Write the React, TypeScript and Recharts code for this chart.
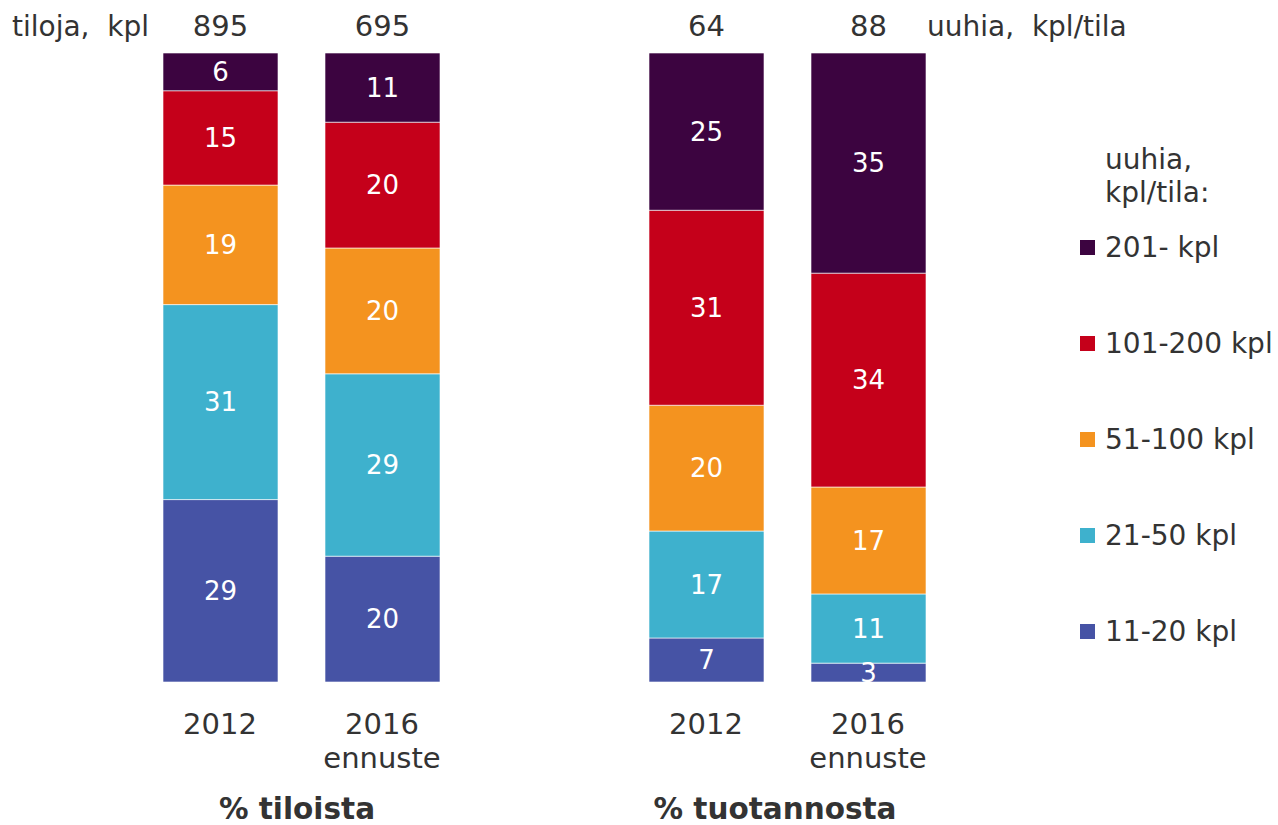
import React from 'react';
import { BarChart, Bar, XAxis, YAxis, LabelList, Legend, Customized } from 'recharts';

// categories (the empty one is the gap between the two groups)
const years = ['2012', '2016', '', '2012', '2016'];
const yearNotes = ['', 'ennuste', '', '', 'ennuste'];
const totals = [895, 695, null, 64, 88];

// shares, % (left pair: of farms, right pair: of production)
const s11_20 = [29, 20, null, 7, 3];
const s21_50 = [31, 29, null, 17, 11];
const s51_100 = [19, 20, null, 20, 17];
const s101_200 = [15, 20, null, 31, 34];
const s201 = [6, 11, null, 25, 35];

const seriesNames = ['11-20 kpl', '21-50 kpl', '51-100 kpl', '101-200 kpl', '201- kpl'];
const seriesKeys = ['s11', 's21', 's51', 's101', 's201'];
const COLORS = ['#4653A5', '#3EB1CD', '#F4931F', '#C5001A', '#3C0440'];

const FONT = '"DejaVu Sans", Verdana, sans-serif';
const TEXT = '#333333';

const data = years.map((y, i) => ({
  id: `c${i}`,
  year: y,
  note: yearNotes[i],
  total: totals[i],
  s11: s11_20[i],
  s21: s21_50[i],
  s51: s51_100[i],
  s101: s101_200[i],
  s201: s201[i],
}));

const YearTick = (props: any) => {
  const { x, y, index } = props;
  const row = data[index];
  if (!row || !row.year) return null;
  return (
    <text x={x} y={y + 44} textAnchor="middle" fill={TEXT} fontSize={29} fontFamily={FONT}>
      <tspan x={x}>{row.year}</tspan>
      {row.note && <tspan x={x} dy={34}>{row.note}</tspan>}
    </text>
  );
};

const Titles = () => (
  <g fontFamily={FONT} fill={TEXT}>
    <text x={12} y={36} fontSize={28}>{'tiloja,\u00a0 kpl'}</text>
    <text x={927} y={36} fontSize={28}>{'uuhia,\u00a0 kpl/tila'}</text>
    <text x={297} y={819} fontSize={29.5} fontWeight="bold" textAnchor="middle">% tiloista</text>
    <text x={775} y={819} fontSize={29.5} fontWeight="bold" textAnchor="middle">% tuotannosta</text>
  </g>
);

const LegendBox = (props: any) => {
  const items = [...(props.payload || [])].sort(
    (a: any, b: any) => seriesNames.indexOf(b.value) - seriesNames.indexOf(a.value)
  );
  return (
    <div style={{ position: 'relative', width: 200, height: 520, fontFamily: FONT, color: TEXT, fontSize: 28 }}>
      <div style={{ position: 'absolute', left: 25, top: 0, lineHeight: '33px', whiteSpace: 'nowrap' }}>
        uuhia,<br />kpl/tila:
      </div>
      {items.map((it: any, i: number) => (
        <div key={it.value} style={{ position: 'absolute', left: 0, top: 84 + i * 96, height: 40, display: 'flex', alignItems: 'center', whiteSpace: 'nowrap' }}>
          <span style={{ display: 'inline-block', width: 15, height: 15, background: it.color, marginRight: 10 }} />
          <span>{it.value}</span>
        </div>
      ))}
    </div>
  );
};

export default function App() {
  return (
    <div style={{ position: 'absolute', left: 0, top: 0, background: '#fff' }}>
      <BarChart
        width={1278}
        height={825}
        data={data}
        margin={{ top: 53, right: 329, left: 139, bottom: 83 }}
        barSize={115}
      >
        <XAxis dataKey="id" axisLine={false} tickLine={false} height={60} tick={<YearTick />} interval={0} />
        <YAxis hide domain={[0, 100]} />
        <Legend
          layout="vertical"
          align="center"
          verticalAlign="middle"
          itemSorter={null as any}
          wrapperStyle={{ left: 1080, top: 143, width: 200 }}
          content={<LegendBox />}
        />
        {seriesKeys.map((k, i) => (
          <Bar
            key={k}
            dataKey={k}
            name={seriesNames[i]}
            stackId="a"
            fill={COLORS[i]}
            stroke="#ffffff"
            strokeOpacity={0.6}
            strokeWidth={1}
            isAnimationActive={false}
          >
            <LabelList
              dataKey={k}
              position="center"
              fill="#ffffff"
              fontSize={26}
              fontFamily={FONT}
              formatter={(v: any) => (v == null ? '' : v)}
            />
            {k === 's201' && (
              <LabelList
                dataKey="total"
                position="top"
                offset={17}
                fill={TEXT}
                fontSize={29}
                fontFamily={FONT}
                formatter={(v: any) => (v == null ? '' : v)}
              />
            )}
          </Bar>
        ))}
        <Customized component={<Titles />} />
      </BarChart>
    </div>
  );
}
